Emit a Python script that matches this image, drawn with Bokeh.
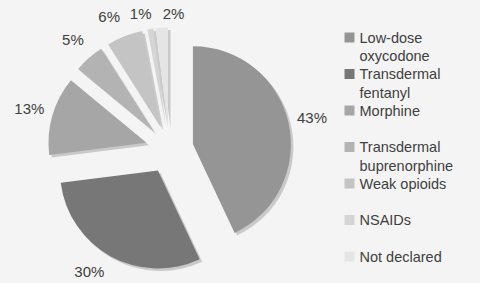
import math
from bokeh.plotting import figure
from bokeh.models import Range1d, GlobalInlineStyleSheet, ColumnDataSource
from bokeh.core.properties import value
from bokeh.embed import file_html
from bokeh.resources import INLINE

# ---- data ----
categories = ["Low-dose\noxycodone", "Transdermal\nfentanyl", "Morphine",
              "Transdermal\nbuprenorphine", "Weak opioids", "NSAIDs", "Not declared"]
shares = [43, 30, 13, 5, 6, 1, 2]
colors = ["#959595", "#777777", "#a6a6a6", "#b3b3b3", "#c4c4c4", "#d5d5d5", "#e5e5e5"]

# ---- layout (page pixels; data x = page X, data y = 283 - page Y) ----
W, H = 480, 283
BG = "#f4f4f4"
TXT = "#404040"
FONT = "'Liberation Sans', Arial, Helvetica, sans-serif"


def py(Y):
    return H - Y


CX, CY = 169, py(149)
R = 98
EXPLODE = 24
LABEL_R = 146
MIN_GAP = 13.0
Y_MIN, Y_MAX = 0, H

total = float(sum(shares))
starts, ends, mids = [], [], []
acc = 0.0
for v in shares:
    a0 = acc / total * 360.0
    acc += v
    a1 = acc / total * 360.0
    starts.append(a0)
    ends.append(a1)
    mids.append((a0 + a1) / 2)

vx = [CX + EXPLODE * math.sin(math.radians(m)) for m in mids]
vy = [CY + EXPLODE * math.cos(math.radians(m)) for m in mids]
start_angle = [math.radians(90 - e) for e in ends]
end_angle = [math.radians(90 - s) for s in starts]

# label angles with simple spreading for crowded small slices
lab = mids[:]
for _ in range(60):
    for i in range(len(lab) - 1):
        gap = lab[i + 1] - lab[i]
        if gap < MIN_GAP:
            d = (MIN_GAP - gap) / 2
            lab[i] -= d
            lab[i + 1] += d

lx, ly = [], []
pad_top, pad_bot = 13, 12
for a in lab:
    s, c = math.sin(math.radians(a)), math.cos(math.radians(a))
    x = CX + LABEL_R * s
    y = CY + LABEL_R * c
    if y < Y_MIN + pad_bot:
        y = Y_MIN + pad_bot
        dx = math.sqrt(max(LABEL_R ** 2 - (y - CY) ** 2, 0))
        x = CX + math.copysign(dx, s)
    if y > Y_MAX - pad_top:
        y = Y_MAX - pad_top
    lx.append(x)
    ly.append(y)

p = figure(width=W, height=H, x_range=Range1d(0, W), y_range=Range1d(Y_MIN, Y_MAX),
           output_backend="svg", toolbar_location=None, min_border=0,
           x_axis_location=None, y_axis_location=None,
           background_fill_color=BG, border_fill_color=BG, outline_line_color=None)
p.xgrid.visible = False
p.ygrid.visible = False
p.stylesheets = [GlobalInlineStyleSheet(css="body { background: %s; }" % BG)]

src = ColumnDataSource(dict(x=vx, y=vy, sx=[x + 2.5 for x in vx], sy=[y - 2.5 for y in vy],
                            start=start_angle, end=end_angle, color=colors))

# shadows
p.wedge(x="sx", y="sy", radius=R, start_angle="start", end_angle="end", source=src,
        fill_color="#c4c4c4", line_color=None, fill_alpha=0.9)
# slices
p.wedge(x="x", y="y", radius=R, start_angle="start", end_angle="end", source=src,
        fill_color="color", line_color=None)

# percentage labels
p.text(x=lx, y=ly, text=[f"{v}%" for v in shares], text_font=value(FONT),
       text_font_size="15px", text_color=TXT, text_align="center", text_baseline="middle")

# legend
leg_y = [py(37 + i * 36.5) for i in range(len(categories))]
p.rect(x=349, y=leg_y, width=10, height=10, fill_color=colors, line_color=None)
p.text(x=359, y=[y + 8 for y in leg_y], text=categories, text_font=value(FONT),
       text_font_size="14.5px", text_color=TXT, text_align="left", text_baseline="top",
       text_line_height=1.18)

open("out.html", "w").write(file_html(p, INLINE))
